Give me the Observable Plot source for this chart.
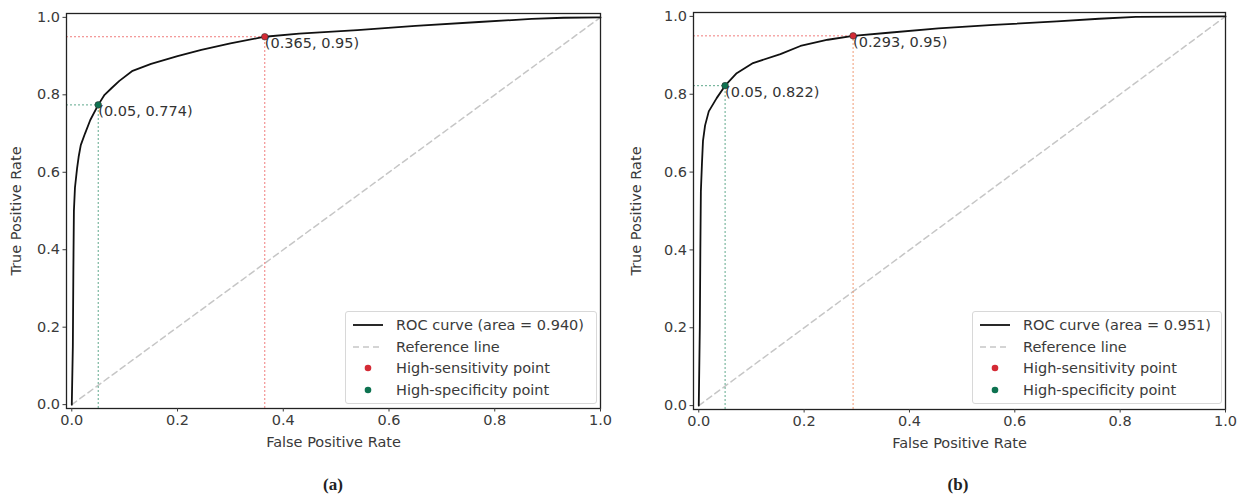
<!DOCTYPE html>
<html>
<head>
<meta charset="utf-8">
<script src="https://cdn.jsdelivr.net/npm/d3@7"></script>
<script src="https://cdn.jsdelivr.net/npm/@observablehq/plot@0.6"></script>
<style>
  html, body { margin: 0; padding: 0; background: #fff; }
  #wrap { position: relative; width: 1241px; height: 497px; font-family: "DejaVu Sans", sans-serif; }
  .panel { position: absolute; top: 0; }
  .legend { position: absolute; border: 1px solid #d8d8d8; border-radius: 3px; background: rgba(255,255,255,0.9);
            font-size: 14.5px; color: #3a3a3a; box-sizing: border-box; padding: 2px 0 0 0; }
  .legend .row { display: flex; align-items: center; height: 21.7px; white-space: nowrap; }
  .legend svg { flex: none; margin-left: 7px; margin-right: 13px; }
  .caption { position: absolute; top: 475px; font-family: "Liberation Serif", serif; font-weight: bold; font-size: 17px; color: #222; transform: translateX(-50%); }
</style>
</head>
<body>
<div id="wrap"></div>
<script>
// ---------- data ----------
const tickValues = [0, 0.2, 0.4, 0.6, 0.8, 1.0];
const panelIds = ["a", "b"];

// Panel (a) ROC curve
const fprA = [0, 0.002, 0.003, 0.004, 0.006, 0.01, 0.013, 0.017, 0.025, 0.035, 0.05, 0.062, 0.075, 0.09, 0.115, 0.15, 0.2, 0.245, 0.3, 0.365, 0.43, 0.54, 0.65, 0.77, 0.87, 0.93, 1.0];
const tprA = [0, 0.15, 0.35, 0.5, 0.56, 0.61, 0.64, 0.67, 0.70, 0.735, 0.774, 0.80, 0.817, 0.836, 0.862, 0.88, 0.9, 0.916, 0.933, 0.95, 0.958, 0.967, 0.978, 0.988, 0.996, 0.999, 1.0];
const aucA = "0.940";
const sensPointA = [0.365, 0.95];
const specPointA = [0.05, 0.774];

// Panel (b) ROC curve
const fprB = [0, 0.002, 0.003, 0.004, 0.006, 0.008, 0.012, 0.019, 0.034, 0.05, 0.072, 0.103, 0.155, 0.193, 0.245, 0.293, 0.36, 0.455, 0.56, 0.68, 0.76, 0.83, 1.0];
const tprB = [0, 0.2, 0.4, 0.55, 0.62, 0.68, 0.72, 0.756, 0.79, 0.822, 0.854, 0.88, 0.903, 0.924, 0.94, 0.95, 0.958, 0.969, 0.978, 0.987, 0.994, 0.999, 1.0];
const aucB = "0.951";
const sensPointB = [0.293, 0.95];
const specPointB = [0.05, 0.822];

const refLineX = [0, 1];
const refLineY = [0, 1];

// ---------- styling ----------
const red = "#d42a35";
const green = "#0d7250";
const font = "DejaVu Sans";
const fs = 14.5;

const panels = [
  {id: "a", fpr: fprA, tpr: tprA, auc: aucA, sens: sensPointA, spec: specPointA, left: 0, width: 620, mLeft: 66, mRight: 20, mTop: 13, bottom: 408, vRed: "#f07c7c"},
  {id: "b", fpr: fprB, tpr: tprB, auc: aucB, sens: sensPointB, spec: specPointB, left: 620, width: 621, mLeft: 73, mRight: 16, mTop: 12, bottom: 409, vRed: "#f09a74"}
];

const H = 460;
const wrap = document.getElementById("wrap");

for (const p of panels) {
  const roc = p.fpr.map((x, i) => ({x, y: p.tpr[i]}));
  const ref = refLineX.map((x, i) => ({x, y: refLineY[i]}));
  const pts = [{x: p.sens[0], y: p.sens[1], c: red, lineC: p.vRed, hC: "#f07c7c"},
               {x: p.spec[0], y: p.spec[1], c: green, lineC: "#5fa88c", hC: "#5fa88c"}];
  const x0 = -0.01, y0 = -0.01;
  const chart = Plot.plot({
    width: p.width,
    height: H,
    marginLeft: p.mLeft,
    marginRight: p.mRight,
    marginTop: p.mTop,
    marginBottom: H - p.bottom,
    style: {fontFamily: font, fontSize: fs + "px", color: "#3a3a3a", background: "white"},
    x: {domain: [x0, 1.0]},
    y: {domain: [y0, 1.01]},
    marks: [
      Plot.line(ref, {x: "x", y: "y", stroke: "#c6c6c6", strokeWidth: 1.5, strokeDasharray: "6,4"}),
      Plot.ruleY(pts, {y: "y", x1: x0, x2: "x", stroke: "hC", strokeWidth: 1, strokeDasharray: "2,2"}),
      Plot.ruleX(pts, {x: "x", y1: y0, y2: "y", stroke: "lineC", strokeWidth: 1, strokeDasharray: "2,2"}),
      Plot.line(roc, {x: "x", y: "y", stroke: "#111", strokeWidth: 1.8}),
      Plot.dot(pts, {x: "x", y: "y", r: 3.3, fill: "c", stroke: "#333", strokeWidth: 0.6}),
      Plot.text(pts, {x: "x", y: "y", text: d => `(${d.x}, ${d.y})`, textAnchor: "start", lineAnchor: "top", dx: 0, dy: 1, fill: "#333", fontSize: fs}),
      Plot.frame({stroke: "#222", strokeWidth: 1.3}),
      Plot.axisX({ticks: tickValues, tickFormat: d3.format(".1f"), tickSize: 3.5, tickPadding: 3, fontSize: fs, label: "False Positive Rate", labelAnchor: "center", labelArrow: "none", labelOffset: 38, fill: "#3a3a3a"}),
      Plot.axisY({ticks: tickValues, tickFormat: d3.format(".1f"), tickSize: 3.5, tickPadding: 3, fontSize: fs, label: "True Positive Rate", labelAnchor: "center", labelArrow: "none", labelOffset: p.mLeft - 10, fill: "#3a3a3a"})
    ]
  });
  const holder = document.createElement("div");
  holder.className = "panel";
  holder.style.left = p.left + "px";
  holder.appendChild(chart);
  wrap.appendChild(holder);

  // legend
  const lg = document.createElement("div");
  lg.className = "legend";
  const lgLeft = p.id === "a" ? 345 : 972;
  lg.style.left = lgLeft + "px";
  lg.style.top = "311px";
  lg.style.width = (p.id === "a" ? 252 : 250) + "px";
  lg.style.height = "93px";
  const items = [
    {label: `ROC curve (area = ${p.auc})`, sw: `<line x1="0" y1="7" x2="30" y2="7" stroke="#111" stroke-width="1.8"/>`},
    {label: "Reference line", sw: `<line x1="0" y1="7" x2="30" y2="7" stroke="#c6c6c6" stroke-width="1.5" stroke-dasharray="6,4"/>`},
    {label: "High-sensitivity point", sw: `<circle cx="15" cy="7" r="3.3" fill="${red}"/>`},
    {label: "High-specificity point", sw: `<circle cx="15" cy="7" r="3.3" fill="${green}"/>`}
  ];
  lg.innerHTML = items.map(it => `<div class="row"><svg width="30" height="14">${it.sw}</svg><span>${it.label}</span></div>`).join("");
  wrap.appendChild(lg);

  // caption
  const cap = document.createElement("div");
  cap.className = "caption";
  cap.style.left = (p.id === "a" ? 333 : 958) + "px";
  cap.textContent = `(${p.id})`;
  wrap.appendChild(cap);
}
</script>
</body>
</html>
